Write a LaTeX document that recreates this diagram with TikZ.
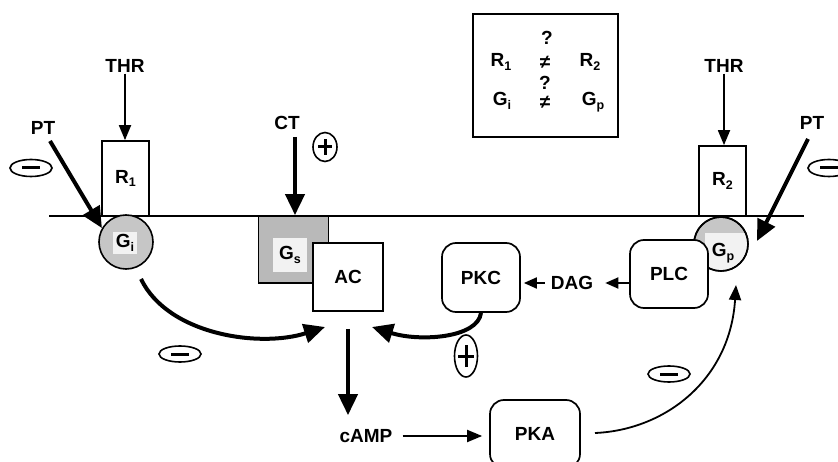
\documentclass[tikz,border=0pt]{standalone}
\usepackage{fontspec}
\setmainfont{Liberation Sans}
\usetikzlibrary{arrows.meta,shapes.geometric}
\newcommand\medtext{\fontsize{19}{22}\selectfont\bfseries}
\newcommand\lowidx[1]{\raisebox{-0.35ex}{\fontsize{12.5}{13}\selectfont\bfseries #1}}
\begin{document}
\begin{tikzpicture}[x=1pt,y=-1pt,
  lbl/.style={font=\medtext, inner sep=1pt},
  sqbox/.style={draw, line width=1.7pt, fill=white, inner sep=0pt, font=\medtext},
  rbox/.style={sqbox, rounded corners=14pt},
  bigarrow/.style={line width=4pt, -{Triangle[width=19pt,length=21pt]}},
  thinarrow/.style={line width=1.8pt, -{Triangle[width=12pt,length=15pt]}},
  smallarrow/.style={line width=1.8pt, -{Triangle[width=11pt,length=13pt]}},
  signoval/.style={draw, ellipse, line width=1.6pt, inner sep=0pt},
  signbar/.style={line width=3pt},
  gcirc/.style={circle, draw, line width=1.6pt, fill=gray!45, minimum size=54pt, inner sep=0pt},
]
\useasboundingbox (0,0) rectangle (838,462);
\fill[white] (0,0) rectangle (838,462);

% membrane
\coordinate (memL) at (49,216);
\coordinate (memR) at (804,216);
\draw[line width=1.8pt] (memL) -- (memR);

% receptors
\node[sqbox, minimum width=47pt, minimum height=75pt] (R1) at (125.5,178.5) {R\lowidx{1}};
\node[sqbox, minimum width=47pt, minimum height=70pt] (R2) at (722.5,181) {R\lowidx{2}};
\node[lbl] (THR1) at (125,66) {THR};
\node[lbl] (THR2) at (724,66) {THR};
\draw[thinarrow] (THR1) -- (THR1 |- R1.north);
\draw[thinarrow] (THR2) -- (THR2 |- R2.north);

% Gi
\node[gcirc] (Gi) at (126,242) {};
\node[lbl, fill=gray!10, inner sep=3pt] (Gilbl) at (125,243) {G\lowidx{i}};

% Gs and AC
\node[sqbox, fill=gray!55, minimum width=70pt, minimum height=67pt] (Gs) at (293.5,249.5) {};
\node[lbl, fill=gray!10, minimum width=34pt, minimum height=34pt, inner sep=0pt] (Gslbl) at (290,255) {G\lowidx{s}};
\node[sqbox, minimum width=70pt, minimum height=68pt] (AC) at (348,277) {AC};

% Gp and PLC
\node[gcirc] (Gp) at (721,244) {};
\begin{scope}
  \clip (721,244) circle [radius=26pt];
  \fill[gray!10] (705,233) rectangle (760,290);
\end{scope}
\draw[line width=1.6pt] (Gp.center) circle [radius=27pt];
\node[lbl] (Gplbl) at (723,253) {G\lowidx{p}};
\node[rbox, minimum width=78pt, minimum height=68pt] (PLC) at (669,274) {PLC};

% PKC, DAG
\node[rbox, minimum width=78pt, minimum height=69pt] (PKC) at (481,277.5) {PKC};
\node[lbl, inner sep=0pt] (DAG) at (572,283) {DAG};
\draw[smallarrow, shorten >=12pt] (PLC.west |- DAG) -- (DAG.east);
\draw[smallarrow, shorten <=6pt, shorten >=3pt] (DAG.west) -- (PKC.east |- DAG);

% PKA, cAMP
\node[rbox, minimum width=90pt, minimum height=68pt] (PKA) at (535,434) {PKA};
\node[lbl] (cAMP) at (366,436) {cAMP};
\draw[thinarrow, shorten <=9pt, shorten >=7pt] (cAMP.east) -- (PKA.west |- cAMP);
\draw[bigarrow, shorten <=17pt, shorten >=13pt] (AC.south) -- (AC.south |- cAMP.north);

% PT and CT
\node[lbl] (PTl) at (43,128) {PT};
\coordinate (PTlstart) at (50,141);
\draw[bigarrow] (PTlstart) -- (Gi.150);
\node[lbl] (PTr) at (812,123) {PT};
\coordinate (PTrstart) at (808,139);
\coordinate (PTrend) at (757,241);
\draw[bigarrow] (PTrstart) -- (PTrend);
\node[lbl] (CT) at (287,123) {CT};
\coordinate (CTstart) at (295,137);
\draw[bigarrow] (CTstart) -- (CTstart |- Gs.north);

% curves to AC
\coordinate (GiOut) at (141,279);
\coordinate (ACinL) at (325,327);
\draw[bigarrow] (GiOut) .. controls (168,335) and (260,348) .. (ACinL);
\coordinate (ACinR) at (372,327);
\draw[bigarrow] (PKC.south) .. controls (478,338) and (420,342) .. (ACinR);

% PKA to Gp
\coordinate (PKAout) at (595,433);
\coordinate (GpIn) at (736,285);
\draw[thinarrow] (PKAout) .. controls (665,430) and (730,380) .. (GpIn);

% signs
\node[signoval, minimum width=42pt, minimum height=17pt] (m1) at (31,168) {};
\draw[signbar] ([xshift=-9pt]m1.center) -- ([xshift=9pt]m1.center);
\node[signoval, minimum width=42pt, minimum height=16pt] (m2) at (180,354) {};
\draw[signbar] ([xshift=-9pt]m2.center) -- ([xshift=9pt]m2.center);
\node[signoval, minimum width=42pt, minimum height=16pt] (m3) at (669,374) {};
\draw[signbar] ([xshift=-9pt]m3.center) -- ([xshift=9pt]m3.center);
\node[signoval, minimum width=42pt, minimum height=17pt] (m4) at (829,168) {};
\draw[signbar] ([xshift=-9pt]m4.center) -- ([xshift=9pt]m4.center);
\node[signoval, minimum width=24pt, minimum height=29pt] (p1) at (325,147) {};
\draw[signbar] ([xshift=-7pt]p1.center) -- ([xshift=7pt]p1.center);
\draw[signbar] ([yshift=-8pt]p1.center) -- ([yshift=8pt]p1.center);
\node[signoval, minimum width=23pt, minimum height=42pt] (p2) at (466,356) {};
\draw[signbar] ([xshift=-8pt]p2.center) -- ([xshift=8pt]p2.center);
\draw[signbar] ([yshift=-11pt]p2.center) -- ([yshift=11pt]p2.center);

% comparison box
\node[draw, line width=1.8pt, minimum width=145pt, minimum height=123pt] (cmp) at (545.5,75.5) {};
\node[lbl, inner sep=0pt] (q1) at (547,38) {?};
\node[lbl] (r1) at (501,62) {R\lowidx{1}};
\node[lbl] (ne1) at (545,62) {≠};
\node[lbl] (r2) at (590,62) {R\lowidx{2}};
\node[lbl, inner sep=0pt] (q2) at (545,83) {?};
\node[lbl] (g1) at (502,101) {G\lowidx{i}};
\node[lbl] (ne2) at (545,102) {≠};
\node[lbl] (g2) at (593,102) {G\lowidx{p}};
\end{tikzpicture}
\end{document}
